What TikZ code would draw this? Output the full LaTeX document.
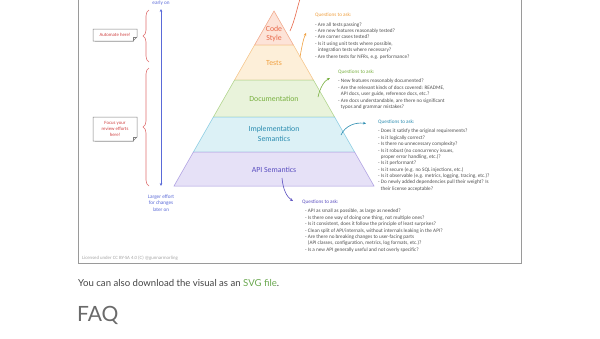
\documentclass[tikz,border=0pt]{standalone}
\usepackage{fontspec}
\setmainfont{Lato}
\newfontfamily\hand{Carlito}
\usetikzlibrary{decorations.pathreplacing,arrows.meta,calc}
\definecolor{csfill}{HTML}{FDE3D8}\definecolor{csline}{HTML}{F0A080}\definecolor{cstext}{HTML}{E8684A}
\definecolor{tfill}{HTML}{FDEFD9}\definecolor{tline}{HTML}{F5C080}\definecolor{ttext}{HTML}{F0A040}
\definecolor{dfill}{HTML}{E9F3DB}\definecolor{dline}{HTML}{A8D080}\definecolor{dtext}{HTML}{78B040}
\definecolor{ifill}{HTML}{DCF1F6}\definecolor{iline}{HTML}{80C8E0}\definecolor{itext}{HTML}{2A8CB0}
\definecolor{afill}{HTML}{E6E1F7}\definecolor{aline}{HTML}{A898E0}\definecolor{atext}{HTML}{5A4EC0}
\definecolor{bodyc}{HTML}{505050}\definecolor{framec}{HTML}{9A9A9A}
\definecolor{bluec}{HTML}{5A6AD8}\definecolor{redc}{HTML}{E07070}\definecolor{notered}{HTML}{D04040}
\definecolor{svggreen}{HTML}{6AA84F}\definecolor{pagetext}{HTML}{444444}\definecolor{faqc}{HTML}{6A6A6A}
\begin{document}
\begin{tikzpicture}[x=1pt,y=-1pt,
  qtxt/.style={font=\hand\fontsize{5.2}{6.37}\selectfont, align=left, anchor=north west, inner sep=0pt, text=bodyc},
  qhead/.style={font=\hand\fontsize{5.2}{6.37}\selectfont, anchor=west, inner sep=0pt},
  layerlbl/.style={font=\hand\fontsize{7.8}{9.5}\selectfont, align=center, inner sep=0pt},
  harrow/.style={-{Stealth[length=3pt,width=2.6pt]}, line width=0.6pt},
  notebox/.style={draw=gray, fill=white, line width=0.5pt},
  notetxt/.style={font=\hand\fontsize{4.8}{5.6}\selectfont, align=center, text=notered, inner sep=0pt},
  bluetxt/.style={font=\hand\fontsize{5.2}{6.4}\selectfont, align=center, text=bluec, inner sep=0pt}]
\useasboundingbox (0,0) rectangle (600,338);
\fill[white] (0,0) rectangle (600,338);
\begin{scope}
\clip (0,0) rectangle (600,338);
% frame
\draw[framec, line width=0.9pt] (78.5,-6) rectangle (521.5,263.5);
% pyramid layers
\filldraw[draw=csline, fill=csfill, line width=0.5pt] (274,11) -- (293.4,45) -- (254.6,45) -- cycle;
\filldraw[draw=tline, fill=tfill, line width=0.5pt] (254.6,45) -- (293.4,45) -- (313.4,80) -- (234.6,80) -- cycle;
\filldraw[draw=dline, fill=dfill, line width=0.5pt] (234.6,80) -- (313.4,80) -- (334.6,117) -- (213.4,117) -- cycle;
\filldraw[draw=iline, fill=ifill, line width=0.5pt] (213.4,117) -- (334.6,117) -- (354.6,152) -- (193.4,152) -- cycle;
\filldraw[draw=aline, fill=afill, line width=0.5pt] (193.4,152) -- (354.6,152) -- (374,186) -- (174,186) -- cycle;
% layer labels
\node[layerlbl, text=cstext] (cs) at (274,34) {Code\\Style};
\node[layerlbl, text=ttext] (ts) at (274,63) {Tests};
\node[layerlbl, text=dtext] (doc) at (274,98.5) {Documentation};
\node[layerlbl, text=itext] (impl) at (274,134) {Implementation\\Semantics};
\node[layerlbl, text=atext] (api) at (274,169.5) {API Semantics};
% question blocks
\node[qhead, text=ttext] (q1) at (315,15) {Questions to ask:};
\node[qtxt] (l1) at (315,22.4) {- Are all tests passing?\\- Are new features reasonably tested?\\- Are corner cases tested?\\- Is it using unit tests where possible,\\\phantom{- }integration tests where necessary?\\- Are there tests for NFRs, e.g. performance?};
\node[qhead, text=dtext] (q2) at (338,71.7) {Questions to ask:};
\node[qtxt] (l2) at (338,79.1) {- New features reasonably documented?\\- Are the relevant kinds of docs covered: README,\\\phantom{- }API docs, user guide, reference docs, etc.?\\- Are docs understandable, are there no significant\\\phantom{- }typos and grammar mistakes?};
\node[qhead, text=itext] (q3) at (378,121.7) {Questions to ask:};
\node[qtxt] (l3) at (378,129.1) {- Does it satisfy the original requirements?\\- Is it logically correct?\\- Is there no unnecessary complexity?\\- Is it robust (no concurrency issues,\\\phantom{- }proper error handling, etc.)?\\- Is it performant?\\- Is it secure (e.g. no SQL injections, etc.)\\- Is it observable (e.g. metrics, logging, tracing, etc.)?\\- Do newly added dependencies pull their weight? Is\\\phantom{- }their license acceptable?};
\node[qhead, text=atext] (q4) at (302,201.7) {Questions to ask:};
\node[qtxt] (l4) at (305,209.1) {- API as small as possible, as large as needed?\\- Is there one way of doing one thing, not multiple ones?\\- Is it consistent, does it follow the principle of least surprises?\\- Clean split of API/internals, without internals leaking in the API?\\- Are there no breaking changes to user-facing parts\\\phantom{- }(API classes, configuration, metrics, log formats, etc.)?\\- Is a new API generally useful and not overly specific?};
% annotation arrows
\coordinate (csA) at (290,31); \coordinate (csB) at (301,-4);
\coordinate (tsA) at (300,57); \coordinate (tsB) at (306,33);
\coordinate (docA) at (318,97); \coordinate (docB) at (330,78);
\coordinate (implA) at (341,135); \coordinate (implB) at (366,123.5);
\coordinate (apiA) at (282,178); \coordinate (apiB) at (293,201);
\draw[harrow, cstext] (csA) .. controls (295,20) and (297,8) .. (csB);
\draw[harrow, ttext] (tsA) .. controls (302,46) and (303,40) .. (tsB);
\draw[harrow, dtext] (docA) .. controls (320,88) and (324,81) .. (docB);
\draw[harrow, itext] (implA) .. controls (345,126) and (355,122) .. (implB);
\draw[harrow, atext] (apiA) .. controls (283,190) and (287,197) .. (apiB);
% effort arrow
\node[bluetxt, anchor=north] (early) at (161,0.6) {early on};
\node[bluetxt, anchor=north] (late) at (161,194.5) {Larger effort\\for changes\\later on};
\coordinate (effTop) at (161,9); \coordinate (effBot) at (161,186);
\draw[bluec, line width=0.6pt, {Stealth[length=3pt,width=2.6pt]}-{Stealth[length=3pt,width=2.6pt]}] (effTop) -- (effBot);
% braces
\coordinate (b1t) at (149,10); \coordinate (b1b) at (149,62);
\coordinate (b2t) at (149,68); \coordinate (b2b) at (149,186);
\draw[redc, line width=0.6pt, decorate, decoration={brace, amplitude=6pt}] (b1b) -- (b1t);
\draw[redc, line width=0.6pt, decorate, decoration={brace, amplitude=6pt}] (b2b) -- (b2t);
% notes
\coordinate (autoC) at (115,35);
\draw[gray!40, line width=1pt] (94.5,41.8) -- (134,41.8);
\draw[notebox] (93,29) -- (137,29) -- (137,37) -- (133,41) -- (93,41) -- cycle;
\draw[gray, line width=0.5pt] (137,37) -- (133,37) -- (133,41);
\node[notetxt] (auto) at (autoC) {Automate here!};
\coordinate (focusC) at (115,129);
\draw[gray!40, line width=1pt] (94.5,141.8) -- (134,141.8);
\draw[notebox] (93,117) -- (137,117) -- (137,137) -- (133,141) -- (93,141) -- cycle;
\draw[gray, line width=0.5pt] (137,137) -- (133,137) -- (133,141);
\node[notetxt] (focus) at (focusC) {Focus your\\review efforts\\here!};
% license
\node[font=\hand\fontsize{4.8}{5.6}\selectfont, text=gray!70, anchor=west, inner sep=0pt] (lic) at (82,258) {Licensed under CC BY-SA 4.0 (C) @gunnarmorling};
% page text
\node[font=\fontsize{9.6}{11}\selectfont, text=pagetext, anchor=base west, inner sep=0pt] (dl) at (78,286) {You can also download the visual as an \textcolor{svggreen}{SVG file}.};
\node[font=\fontsize{21}{24}\selectfont, text=faqc, anchor=base west, inner sep=0pt] (faq) at (77,321) {FAQ};
\end{scope}
\end{tikzpicture}
\end{document}
